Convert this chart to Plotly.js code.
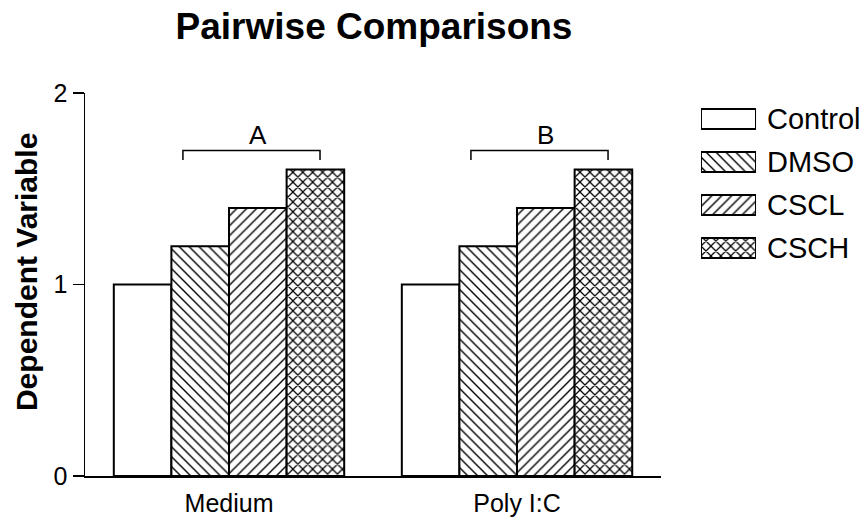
<!DOCTYPE html>
<html>
<head>
<meta charset="utf-8">
<script src="https://cdn.plot.ly/plotly-3.0.1.min.js"></script>
<style>html,body{margin:0;padding:0;background:#fff;}#chart{width:868px;height:521px;}</style>
</head>
<body>
<div id="chart"></div>
<script>
// ---- data ----
const categories = ["Medium", "Poly I:C"];
const seriesNames = ["Control", "DMSO", "CSCL", "CSCH"];
const controlValues = [1.0, 1.0];
const dmsoValues = [1.2, 1.2];
const csclValues = [1.4, 1.4];
const cschValues = [1.6, 1.6];
const yTickVals = [0, 1, 2];
const yTickText = ["0", "1", "2"];
const bracketLabels = ["A", "B"];

// ---- styles ----
const patternShapes = ["", "\\", "/", "x"];
const patternSolidity = [0.18, 0.2, 0.2, 0.32];
const FONT = "Liberation Sans, Arial, sans-serif";
const seriesValues = [controlValues, dmsoValues, csclValues, cschValues];

const traces = seriesNames.map((name, i) => ({
  type: "bar",
  name: name,
  x: categories,
  y: seriesValues[i],
  xaxis: "x",
  yaxis: "y",
  showlegend: false,
  cliponaxis: false,
  marker: {
    color: "#ffffff",
    line: { color: "#000000", width: 2 },
    pattern: { shape: patternShapes[i], fgcolor: "#000000", bgcolor: "#ffffff", size: 7, solidity: patternSolidity[i] }
  },
  hoverinfo: "skip"
}));

// legend swatches as a small horizontal bar subplot
traces.push({
  type: "bar",
  orientation: "h",
  y: seriesNames,
  x: seriesNames.map(() => 1),
  xaxis: "x2",
  yaxis: "y2",
  width: 0.465,
  showlegend: false,
  cliponaxis: false,
  marker: {
    color: "#ffffff",
    line: { color: "#000000", width: 2 },
    pattern: { shape: patternShapes, fgcolor: "#000000", bgcolor: "#ffffff", size: 7, solidity: patternSolidity }
  },
  hoverinfo: "skip"
});

// brackets over DMSO..CSCH in each group
const shapes = [];
const annotations = [];
const bL = -0.16, bR = 0.316, bTop = 1.70, bBot = 1.65;
bracketLabels.forEach((lab, g) => {
  shapes.push({
    type: "path", xref: "x", yref: "y",
    path: `M ${g + bL} ${bBot} L ${g + bL} ${bTop} L ${g + bR} ${bTop} L ${g + bR} ${bBot}`,
    line: { color: "#000000", width: 1.5 }
  });
  annotations.push({
    xref: "x", yref: "y", x: g + 0.1, y: 1.78, text: lab, showarrow: false,
    font: { family: FONT, size: 26, color: "#000000" }, xanchor: "center", yanchor: "middle"
  });
});

// y-axis title
annotations.push({
  xref: "paper", yref: "paper", x: -0.0758, y: 0.5326, xanchor: "center", yanchor: "middle",
  text: "Dependent Variable", textangle: -90, showarrow: false,
  font: { family: FONT, size: 30, weight: "bold", color: "#000000" }
});

const layout = {
  width: 868, height: 521,
  margin: { l: 85, r: 5, t: 93, b: 45 },
  paper_bgcolor: "#ffffff", plot_bgcolor: "#ffffff",
  font: { family: FONT, color: "#000000", size: 25 },
  barmode: "group", bargap: 0.2, bargroupgap: 0,
  title: {
    text: "Pairwise Comparisons",
    font: { family: FONT, size: 37, weight: "bold", color: "#000000" },
    xref: "container", yref: "container", x: 0.4309, y: 0.95, xanchor: "center", yanchor: "middle"
  },
  xaxis: {
    domain: [0, 0.7404],
    type: "category", range: [-0.5, 1.5],
    showline: true, linecolor: "#000000", linewidth: 2,
    ticks: "", showgrid: false, zeroline: false,
    tickfont: { family: FONT, size: 25, color: "#000000" },
    ticklabelstandoff: 4,
    fixedrange: true
  },
  yaxis: {
    domain: [0, 1],
    range: [0, 2],
    tickvals: yTickVals, ticktext: yTickText,
    showline: true, linecolor: "#000000", linewidth: 1.5,
    ticks: "outside", ticklen: 11, tickwidth: 1.5, tickcolor: "#000000",
    showgrid: false, zeroline: false,
    tickfont: { family: FONT, size: 25, color: "#000000" },
    fixedrange: true
  },
  xaxis2: {
    domain: [0.7918, 0.8625], anchor: "y2", range: [0, 1],
    visible: false, fixedrange: true
  },
  yaxis2: {
    domain: [0.539, 0.988], anchor: "x2", type: "category",
    range: [3.5, -0.5], side: "right",
    showline: false, ticks: "", showgrid: false, zeroline: false,
    ticklabelstandoff: 10,
    tickfont: { family: FONT, size: 29, color: "#000000" },
    fixedrange: true
  },
  shapes: shapes,
  annotations: annotations
};

Plotly.newPlot("chart", traces, layout, { displayModeBar: false, staticPlot: true });
</script>
</body>
</html>
